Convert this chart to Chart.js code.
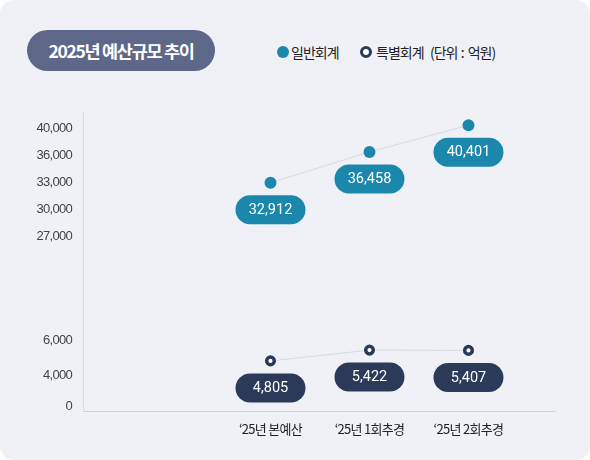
<!DOCTYPE html>
<html><head><meta charset="utf-8">
<script src="https://cdn.jsdelivr.net/npm/chart.js@4.4.1/dist/chart.umd.min.js"></script>
<style>
html,body{margin:0;padding:0;background:#fff;}
#card{position:absolute;left:0;top:0;width:590px;height:460px;background:#f0f1f7;border-radius:14px;overflow:hidden;font-family:"Noto Sans CJK KR","Noto Sans",sans-serif;}
#title{position:absolute;left:27px;top:30px;width:188px;height:41px;border-radius:21px;background:#5d6889;color:#fff;font-weight:700;font-size:17.5px;line-height:41px;text-align:center;letter-spacing:-1.3px;}
#legend{position:absolute;left:277px;top:42px;height:20px;font-size:14px;color:#222;letter-spacing:-1px;line-height:20px;white-space:nowrap;}
.it{position:absolute;top:0;}
.dot{position:absolute;top:4px;width:12px;height:12px;border-radius:50%;box-sizing:border-box;}
canvas{position:absolute;left:0;top:0;}
</style></head>
<body>
<div id="card">
  <div id="title">2025년 예산규모 추이</div>
  <div id="legend">
    <div class="it" style="left:0"><div class="dot" style="left:0;background:#1b87ad"></div><span style="position:absolute;left:14px">일반회계</span></div>
    <div class="it" style="left:83px"><div class="dot" style="left:0;background:#fff;border:3.5px solid #2c3a5a"></div><span style="position:absolute;left:16px">특별회계</span></div>
    <div class="it" style="left:153px"><span>(단위</span><span style="letter-spacing:0">&nbsp;:&nbsp;</span><span>억원)</span></div>
  </div>
  <canvas id="c" width="590" height="460"></canvas>
</div>
<script>
// ---- data ----
const categories = ['‘25년 본예산', '‘25년 1회추경', '‘25년 2회추경'];
const generalAccount = [32912, 36458, 40401];
const specialAccount = [4805, 5422, 5407];
const yTickValues = [0, 4000, 6000, 27000, 30000, 33000, 36000, 40000];

// ---- broken (piecewise) y scale: tick positions along the axis (fraction from bottom) ----
const yTickFractions = [0.0167, 0.1219, 0.2387, 0.586, 0.6761, 0.7663, 0.8564, 0.9466];

function valueToDecimal(v, vals, fr) {
  const n = vals.length;
  let i = 0;
  if (v <= vals[0]) i = 0;
  else if (v >= vals[n - 1]) i = n - 2;
  else { while (i < n - 2 && v > vals[i + 1]) i++; }
  const t = (v - vals[i]) / (vals[i + 1] - vals[i]);
  return fr[i] + t * (fr[i + 1] - fr[i]);
}
function decimalToValue(d, vals, fr) {
  const n = fr.length;
  let i = 0;
  if (d <= fr[0]) i = 0;
  else if (d >= fr[n - 1]) i = n - 2;
  else { while (i < n - 2 && d > fr[i + 1]) i++; }
  const t = (d - fr[i]) / (fr[i + 1] - fr[i]);
  return vals[i] + t * (vals[i + 1] - vals[i]);
}

class BrokenScale extends Chart.LinearScale {
  buildTicks() {
    return this.options.breakValues.map(v => ({ value: v }));
  }
  getPixelForValue(value) {
    const o = this.options;
    return this.getPixelForDecimal(valueToDecimal(value, o.breakValues, o.breakFractions));
  }
  getValueForPixel(pixel) {
    const o = this.options;
    return decimalToValue(this.getDecimalForPixel(pixel), o.breakValues, o.breakFractions);
  }
}
BrokenScale.id = 'broken';
BrokenScale.defaults = Chart.LinearScale.defaults;
Chart.register(BrokenScale);

const fmt = v => Number(v).toLocaleString('en-US');

const spacingPlugin = {
  id: 'spacing',
  beforeDraw(chart) { chart.ctx.letterSpacing = '-0.7px'; }
};

const pillPlugin = {
  id: 'pills',
  afterDatasetsDraw(chart) {
    const ctx = chart.ctx;
    chart.data.datasets.forEach((ds, di) => {
      const meta = chart.getDatasetMeta(di);
      meta.data.forEach((pt, i) => {
        const w = 70, h = 29, cx = pt.x, cy = pt.y + 27;
        ctx.save();
        ctx.letterSpacing = '0px';
        ctx.fillStyle = ds.pillColor;
        ctx.beginPath();
        ctx.roundRect(cx - w / 2, cy - h / 2, w, h, h / 2);
        ctx.fill();
        ctx.fillStyle = '#fff';
        ctx.font = '14.5px Roboto, "Noto Sans", sans-serif';
        ctx.textAlign = 'center';
        ctx.textBaseline = 'middle';
        ctx.fillText(fmt(ds.data[i].y), cx, cy + 0.5);
        ctx.restore();
      });
    });
  }
};

new Chart(document.getElementById('c'), {
  type: 'line',
  data: {
    datasets: [
      {
        label: '일반회계',
        data: generalAccount.map((v, i) => ({ x: i, y: v })),
        borderColor: '#d9d9e2', borderWidth: 1,
        pointRadius: 6, pointHoverRadius: 6,
        pointBackgroundColor: '#1b87ad', pointBorderWidth: 0,
        pillColor: '#1b87ad'
      },
      {
        label: '특별회계',
        data: specialAccount.map((v, i) => ({ x: i, y: v })),
        borderColor: '#d9d9e2', borderWidth: 1,
        pointRadius: 3.8, pointHoverRadius: 3.8,
        pointBackgroundColor: '#ffffff', pointBorderColor: '#2c3a5a', pointBorderWidth: 3.5,
        pillColor: '#2c3a5a'
      }
    ]
  },
  options: {
    responsive: false,
    animation: false,
    layout: { padding: { left: 0, right: 35, top: 112, bottom: 0 } },
    plugins: { legend: { display: false }, tooltip: { enabled: false } },
    scales: {
      x: {
        type: 'linear',
        min: -1.894, max: 2.874,
        afterBuildTicks: s => { s.ticks = categories.map((c, i) => ({ value: i })); },
        afterFit: s => { s.height = 48.5; },
        grid: { display: false, drawTicks: false },
        border: { display: true, color: '#cdd0e2', width: 1 },
        ticks: {
          padding: 10,
          color: '#222',
          font: { family: '"Noto Sans CJK KR", sans-serif', size: 13 },
          callback: v => categories[v]
        }
      },
      y: {
        type: 'broken',
        min: -555, max: 42370,
        breakValues: yTickValues,
        breakFractions: yTickFractions,
        afterFit: s => { s.width = 83; },
        grid: { display: false, drawTicks: false },
        border: { display: true, color: '#d9dae3', width: 1 },
        ticks: {
          padding: 11,
          color: '#444',
          font: { family: '"Liberation Sans", Arial, sans-serif', size: 13 },
          callback: v => fmt(v)
        }
      }
    }
  },
  plugins: [spacingPlugin, pillPlugin]
});
</script>
</body></html>
